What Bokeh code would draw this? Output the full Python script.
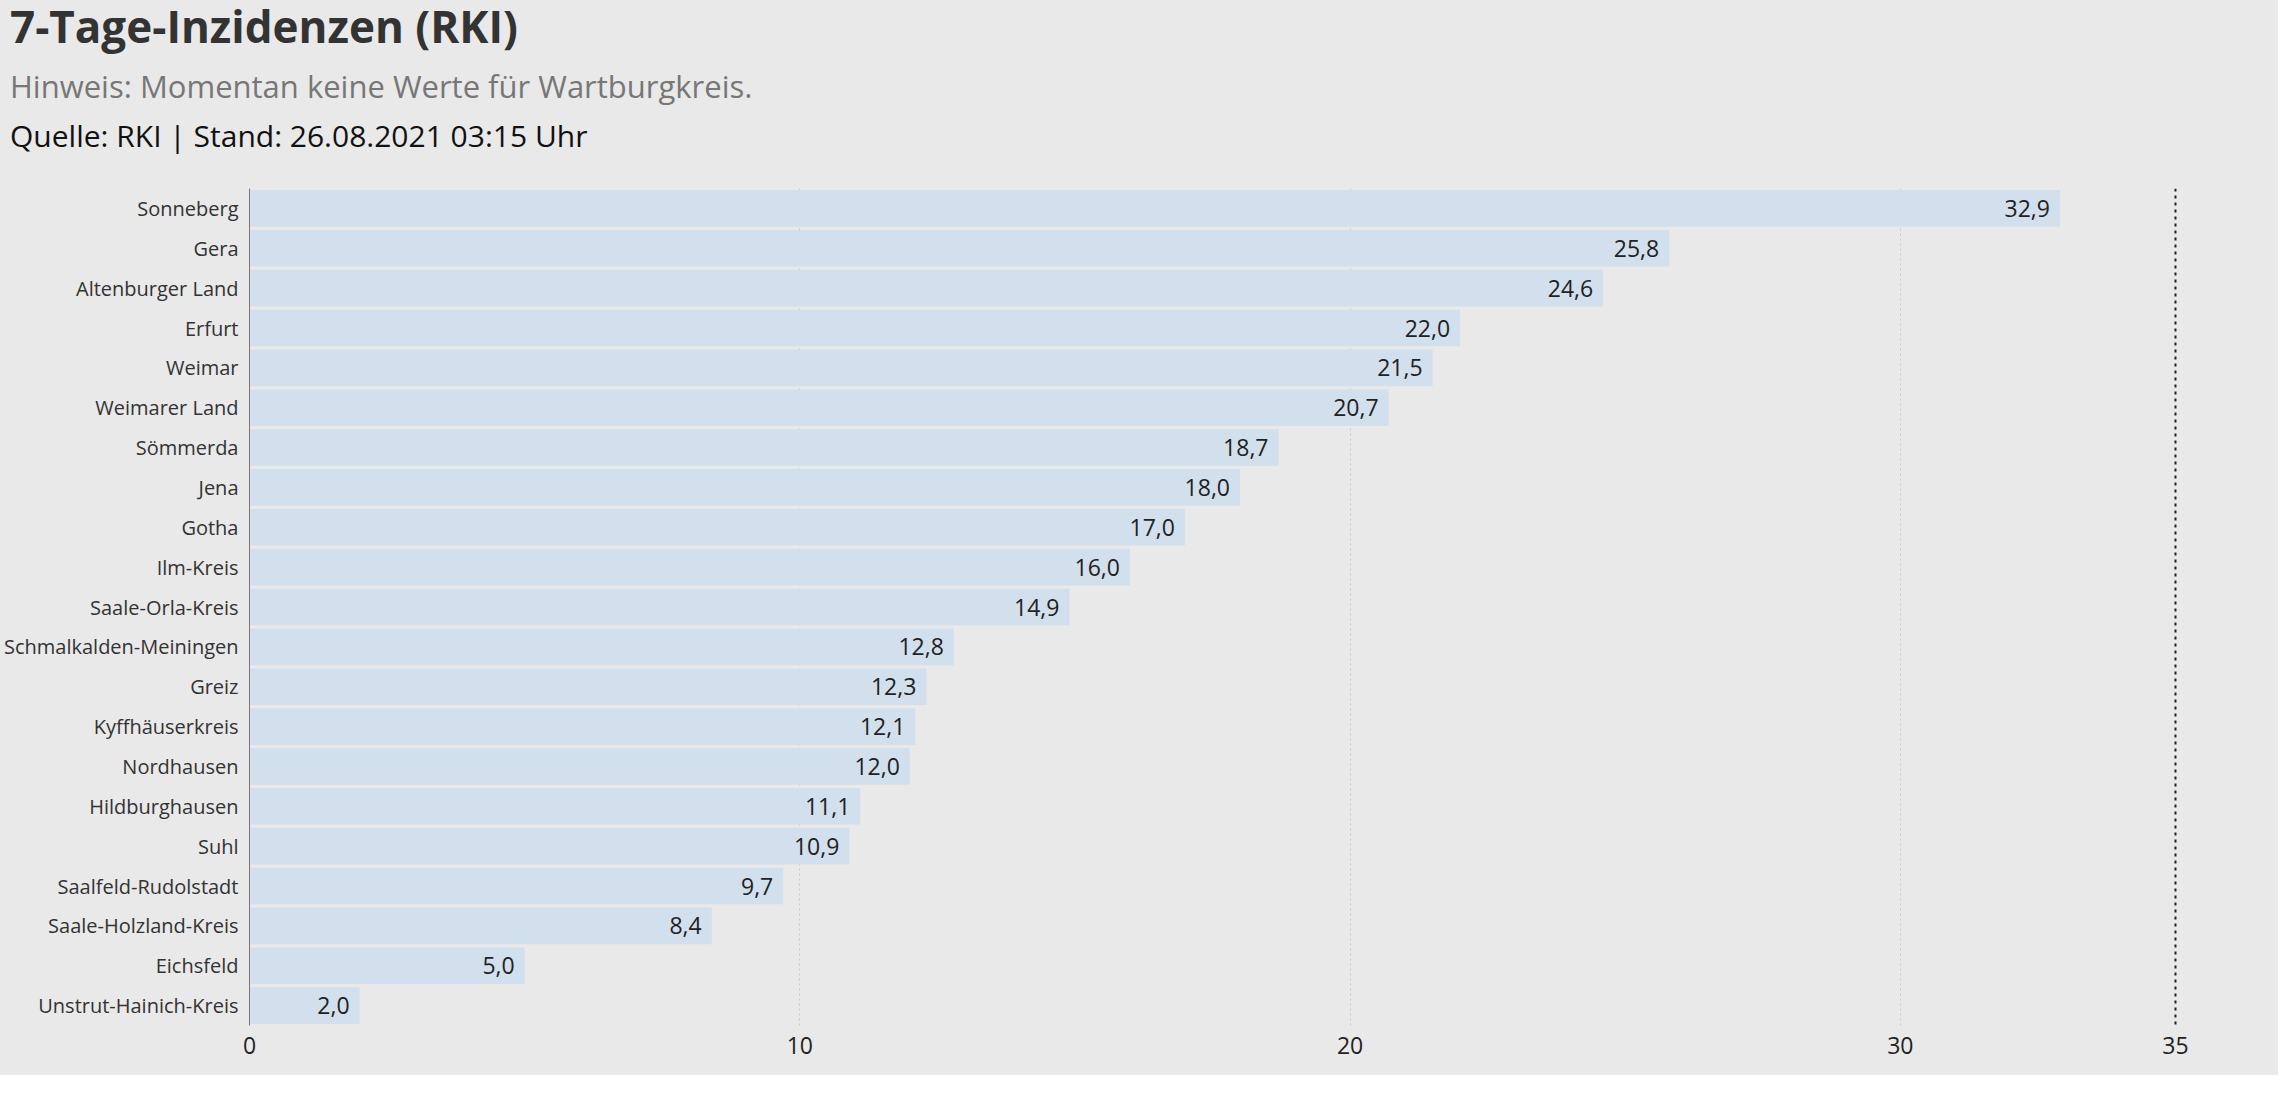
from bokeh.plotting import figure
from bokeh.models import ColumnDataSource, Span, FixedTicker, LabelSet, Div
from bokeh.layouts import column
from bokeh.core.properties import value
from bokeh.embed import file_html
from bokeh.resources import INLINE

regions = ["Sonneberg","Gera","Altenburger Land","Erfurt","Weimar","Weimarer Land","Sömmerda","Jena","Gotha","Ilm-Kreis","Saale-Orla-Kreis","Schmalkalden-Meiningen","Greiz","Kyffhäuserkreis","Nordhausen","Hildburghausen","Suhl","Saalfeld-Rudolstadt","Saale-Holzland-Kreis","Eichsfeld","Unstrut-Hainich-Kreis"]
values = [32.9,25.8,24.6,22.0,21.5,20.7,18.7,18.0,17.0,16.0,14.9,12.8,12.3,12.1,12.0,11.1,10.9,9.7,8.4,5.0,2.0]
labels = [f"{v:.1f}".replace(".", ",") for v in values]
ticks = [0, 10, 20, 30, 35]

F = "Open Sans"
BG = "#e9e9e9"
src = ColumnDataSource(dict(y=regions, x=values, t=labels))

def div(text, size, color, weight, h):
    return Div(text=text, width=2278, height=h, styles={"font-family": F, "font-size": size, "color": color,
               "font-weight": weight, "background-color": BG, "padding-left": "10px", "margin": "0",
               "line-height": "1.2"})

d1 = div("7-Tage-Inzidenzen (RKI)", "44px", "#333333", "bold", 68)
d2 = div("Hinweis: Momentan keine Werte für Wartburgkreis.", "31px", "#777777", "normal", 50)
d3 = div("Quelle: RKI | Stand: 26.08.2021 03:15 Uhr", "30px", "#111111", "normal", 62)

p = figure(width=2278, height=895, y_range=list(reversed(regions)), x_range=(0, 35.6),
           output_backend="svg", toolbar_location=None, background_fill_color=BG,
           border_fill_color=BG, outline_line_color=None, min_border_left=20, min_border_right=70,
           min_border_top=8, min_border_bottom=50)

p.hbar(y="y", right="x", left=0, height=0.92, source=src, color="#d2e0ed", line_color=None)
p.add_layout(LabelSet(x="x", y="y", text="t", source=src, x_offset=-10, text_align="right",
                      text_baseline="middle", text_font=value(F), text_font_size="23px", text_color="#222222"))
p.add_layout(Span(location=35, dimension="height", line_color="#222222", line_dash="3 4", line_width=2))

p.xaxis.ticker = FixedTicker(ticks=ticks)
p.xaxis.axis_line_color = None
p.xaxis.major_tick_line_color = None
p.xaxis.minor_tick_line_color = None
p.xaxis.major_label_text_font = F
p.xaxis.major_label_text_font_size = "23px"
p.xaxis.major_label_text_color = "#222222"
p.yaxis.axis_line_color = "#777777"
p.yaxis.major_tick_line_color = None
p.yaxis.minor_tick_line_color = None
p.yaxis.major_label_text_font = F
p.yaxis.major_label_text_font_size = "20px"
p.yaxis.major_label_text_color = "#333333"
p.ygrid.grid_line_color = None
p.xgrid.ticker = FixedTicker(ticks=[10, 20, 30])
p.xgrid.grid_line_color = "#c8c8c8"
p.xgrid.grid_line_dash = "2 3"

layout = column(d1, d2, d3, p, spacing=0, styles={"background-color": BG})
open("out.html", "w").write(file_html(layout, INLINE))
